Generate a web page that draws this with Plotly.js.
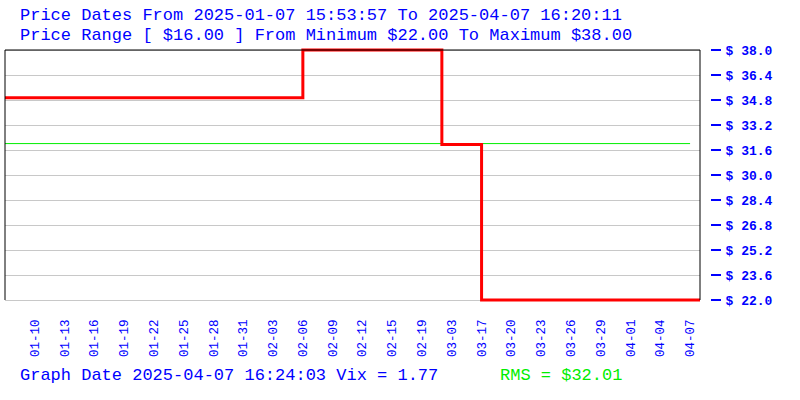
<!DOCTYPE html>
<html>
<head>
<meta charset="utf-8">
<script src="https://cdn.plot.ly/plotly-3.0.1.min.js"></script>
<style>html,body{margin:0;padding:0;background:#fff;}#chart{width:800px;height:400px;}</style>
</head>
<body>
<div id="chart"></div>
<script>
// ---- data ----
const stepIndex = [0, 30, 44, 48, 70];
const stepPrice = [34.95, 38.0, 31.95, 22.0, 22.0];
const rmsValue = 32.01;
const rmsSpan = [0, 69];
const tickDates = ['01-10','01-13','01-16','01-19','01-22','01-25','01-28','01-31','02-03','02-06','02-09','02-12','02-15','02-19','03-03','03-17','03-20','03-23','03-26','03-29','04-01','04-04','04-07'];
const tickDateIndex = [3,6,9,12,15,18,21,24,27,30,33,36,39,42,45,48,51,54,57,60,63,66,69];
const priceTicks = [22.0, 23.6, 25.2, 26.8, 28.4, 30.0, 31.6, 33.2, 34.8, 36.4, 38.0];
const priceTickText = priceTicks.map(v => '$ ' + v.toFixed(1));
const priceMin = 22.0, priceMax = 38.0;
const titleLine1 = 'Price Dates From 2025-01-07 15:53:57 To 2025-04-07 16:20:11';
const titleLine2 = 'Price Range [ $16.00 ] From Minimum $22.00 To Maximum $38.00';
const footLeft = 'Graph Date 2025-04-07 16:24:03 Vix = 1.77';
const footRight = 'RMS = $' + rmsValue.toFixed(2);

const MONO = 'Liberation Mono, Courier New, monospace';
const BLUE = '#0000ff';
const W = 800, ML = 5, MR = 5;
const pw = W - ML - MR;
const xRight = (700 - ML) / pw;
const yAxPos = (710 - ML) / pw;
// pad the value range by 2px on each side so the thick red line is not clipped
const pxPerUnit = 250 / (priceMax - priceMin);
const pad = 2 / pxPerUnit;
const yRange = [priceMin - pad, priceMax + pad];

const traces = [
  {x: rmsSpan, y: [rmsValue, rmsValue], mode: 'lines', line: {color: '#00ee00', width: 1}, hoverinfo: 'skip'},
  {x: stepIndex, y: stepPrice, mode: 'lines', line: {color: '#ff0000', width: 3, shape: 'hv'}, hoverinfo: 'skip'},
  {x: [stepIndex[0]], y: [priceMin], mode: 'markers', marker: {opacity: 0}, yaxis: 'y2', hoverinfo: 'skip'}
];

const layout = {
  width: 800, height: 400,
  margin: {l: ML, r: MR, t: 48, b: 98},
  paper_bgcolor: '#fff', plot_bgcolor: '#fff',
  showlegend: false,
  xaxis: {
    domain: [0, xRight], range: [0, 70],
    tickmode: 'array', tickvals: tickDateIndex, ticktext: tickDates,
    tickangle: -90, ticks: '', showgrid: false, zeroline: false, showline: false,
    tickfont: {family: MONO, size: 12.5, color: BLUE},
    ticklabelstandoff: 14
  },
  yaxis: {
    range: yRange, tickmode: 'array', tickvals: priceTicks,
    showticklabels: false, ticks: '', showgrid: true, gridcolor: '#c8c8c8', gridwidth: 1,
    zeroline: false, showline: false
  },
  yaxis2: {
    overlaying: 'y', anchor: 'free', position: yAxPos, side: 'right',
    range: yRange, tickmode: 'array', tickvals: priceTicks, ticktext: priceTickText,
    ticks: 'outside', ticklen: 10, tickwidth: 1.5, tickcolor: BLUE,
    showgrid: false, zeroline: false, showline: false,
    tickfont: {family: MONO, size: 13, color: BLUE, weight: 'bold'},
    ticklabelstandoff: 2
  },
  shapes: [
    {type: 'line', xref: 'x domain', yref: 'y', x0: 0, x1: 0, y0: priceMin, y1: priceMax, line: {color: '#000', width: 1}},
    {type: 'line', xref: 'x domain', yref: 'y', x0: 0, x1: 1, y0: priceMax, y1: priceMax, line: {color: '#000', width: 1}},
    {type: 'line', xref: 'x domain', yref: 'y', x0: 1, x1: 1, y0: priceMin, y1: priceMax, line: {color: '#000', width: 1}}
  ],
  annotations: [
    {xref: 'paper', yref: 'paper', x: (18 - ML) / pw, y: 1, yshift: 33, xanchor: 'left', yanchor: 'middle', showarrow: false, text: titleLine1, font: {family: MONO, size: 17, color: BLUE}},
    {xref: 'paper', yref: 'paper', x: (18 - ML) / pw, y: 1, yshift: 13, xanchor: 'left', yanchor: 'middle', showarrow: false, text: titleLine2, font: {family: MONO, size: 17, color: BLUE}},
    {xref: 'paper', yref: 'paper', x: (18 - ML) / pw, y: 0, yshift: -73, xanchor: 'left', yanchor: 'middle', showarrow: false, text: footLeft, font: {family: MONO, size: 17, color: BLUE}},
    {xref: 'paper', yref: 'paper', x: (498 - ML) / pw, y: 0, yshift: -73, xanchor: 'left', yanchor: 'middle', showarrow: false, text: footRight, font: {family: MONO, size: 17, color: '#00ee00'}}
  ]
};

Plotly.newPlot('chart', traces, layout, {staticPlot: true, displayModeBar: false});
</script>
</body>
</html>
